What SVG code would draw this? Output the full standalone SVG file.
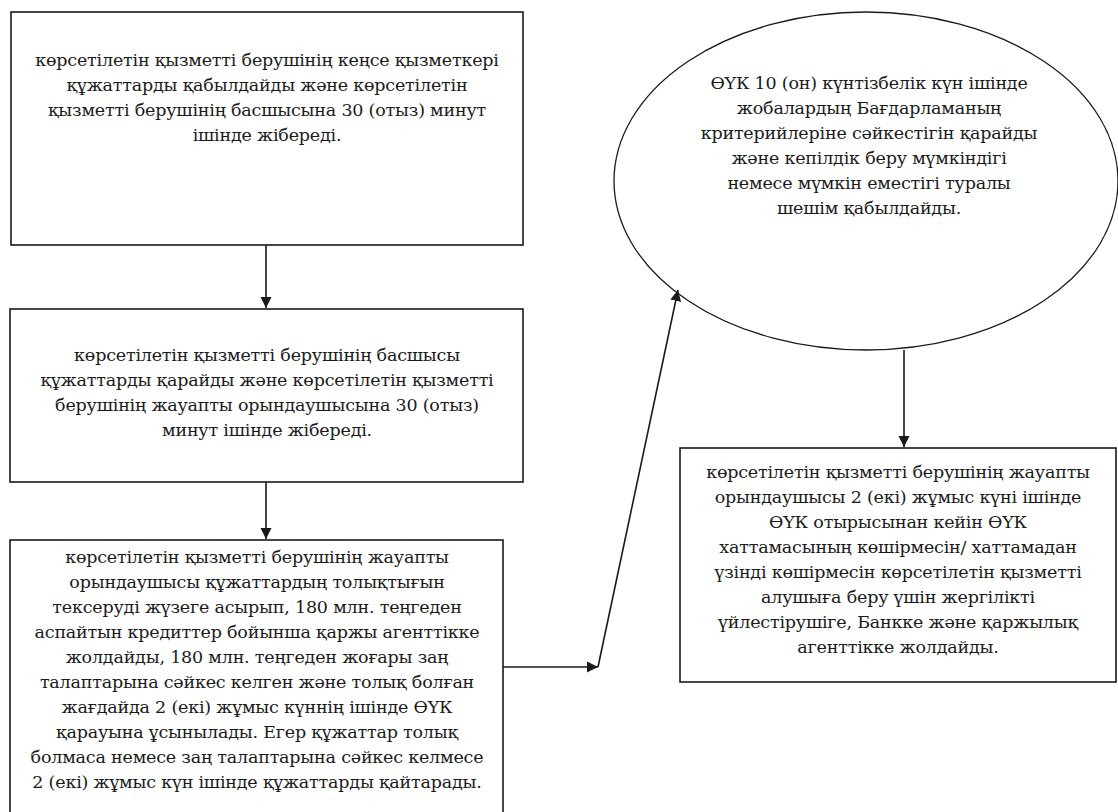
<svg xmlns="http://www.w3.org/2000/svg" width="1118" height="812" viewBox="0 0 1118 812">
<defs>
<style>
.box{fill:#fff;stroke:#1a1a1a;stroke-width:1.6}
.t{font-family:"DejaVu Serif","Liberation Serif",serif;font-size:17.5px;fill:#1a1a1a;text-anchor:middle;letter-spacing:-0.2px}
.c{stroke:#1a1a1a;stroke-width:1.6;fill:none}
</style>
<marker id="ah" markerUnits="userSpaceOnUse" markerWidth="12" markerHeight="12" refX="11" refY="6" orient="auto" viewBox="0 0 12 12">
<path d="M0,0.5 L11,6 L0,11.5 z" fill="#1a1a1a"/>
</marker>
</defs>
<rect width="1118" height="812" fill="#fff"/>
<g id="n1">
<rect class="box" x="11" y="12" width="512" height="233"/>
<text class="t" x="267" y="66">көрсетілетін қызметті берушінің кеңсе қызметкері</text>
<text class="t" x="267" y="91">құжаттарды қабылдайды және көрсетілетін</text>
<text class="t" x="267" y="116">қызметті берушінің басшысына 30 (отыз) минут</text>
<text class="t" x="267" y="141">ішінде жібереді.</text>
</g>
<g id="n2">
<rect class="box" x="10" y="309" width="513" height="173"/>
<text class="t" x="267" y="361">көрсетілетін қызметті берушінің басшысы</text>
<text class="t" x="267" y="386">құжаттарды қарайды және көрсетілетін қызметті</text>
<text class="t" x="267" y="411">берушінің жауапты орындаушысына 30 (отыз)</text>
<text class="t" x="267" y="436">минут ішінде жібереді.</text>
</g>
<g id="n3">
<rect class="box" x="10" y="540" width="493" height="300"/>
<text class="t" x="257" y="563">көрсетілетін қызметті берушінің жауапты</text>
<text class="t" x="257" y="588">орындаушысы құжаттардың толықтығын</text>
<text class="t" x="257" y="613">тексеруді жүзеге асырып, 180 млн. теңгеден</text>
<text class="t" x="257" y="638">аспайтын кредиттер бойынша қаржы агенттікке</text>
<text class="t" x="257" y="663">жолдайды, 180 млн. теңгеден жоғары заң</text>
<text class="t" x="257" y="688">талаптарына сәйкес келген және толық болған</text>
<text class="t" x="257" y="713">жағдайда 2 (екі) жұмыс күннің ішінде ӨҮК</text>
<text class="t" x="257" y="738">қарауына ұсынылады. Егер құжаттар толық</text>
<text class="t" x="257" y="763">болмаса немесе заң талаптарына сәйкес келмесе</text>
<text class="t" x="257" y="788">2 (екі) жұмыс күн ішінде құжаттарды қайтарады.</text>
</g>
<g id="n4">
<ellipse class="box" cx="866" cy="181" rx="252" ry="169" style="stroke-width:1.3"/>
<text class="t" x="869" y="89">ӨҮК 10 (он) күнтізбелік күн ішінде</text>
<text class="t" x="869" y="114">жобалардың Бағдарламаның</text>
<text class="t" x="869" y="139">критерийлеріне сәйкестігін қарайды</text>
<text class="t" x="869" y="164">және кепілдік беру мүмкіндігі</text>
<text class="t" x="869" y="189">немесе мүмкін еместігі туралы</text>
<text class="t" x="869" y="214">шешім қабылдайды.</text>
</g>
<g id="n5">
<rect class="box" x="680" y="448" width="436" height="234"/>
<text class="t" x="898" y="478">көрсетілетін қызметті берушінің жауапты</text>
<text class="t" x="898" y="503">орындаушысы 2 (екі) жұмыс күні ішінде</text>
<text class="t" x="898" y="528">ӨҮК отырысынан кейін ӨҮК</text>
<text class="t" x="898" y="553">хаттамасының көшірмесін/ хаттамадан</text>
<text class="t" x="898" y="578">үзінді көшірмесін көрсетілетін қызметті</text>
<text class="t" x="898" y="603">алушыға беру үшін жергілікті</text>
<text class="t" x="898" y="628">үйлестірушіге, Банкке және қаржылық</text>
<text class="t" x="898" y="653">агенттікке жолдайды.</text>
</g>
<g id="connectors">
<line class="c" x1="266" y1="245" x2="266" y2="308" marker-end="url(#ah)"/>
<line class="c" x1="266" y1="482" x2="266" y2="539" marker-end="url(#ah)"/>
<line class="c" x1="503" y1="667" x2="598" y2="667" marker-end="url(#ah)"/>
<line class="c" x1="598" y1="667" x2="678" y2="290" marker-end="url(#ah)"/>
<line class="c" x1="904" y1="350" x2="904" y2="447" marker-end="url(#ah)"/>
</g>
</svg>
